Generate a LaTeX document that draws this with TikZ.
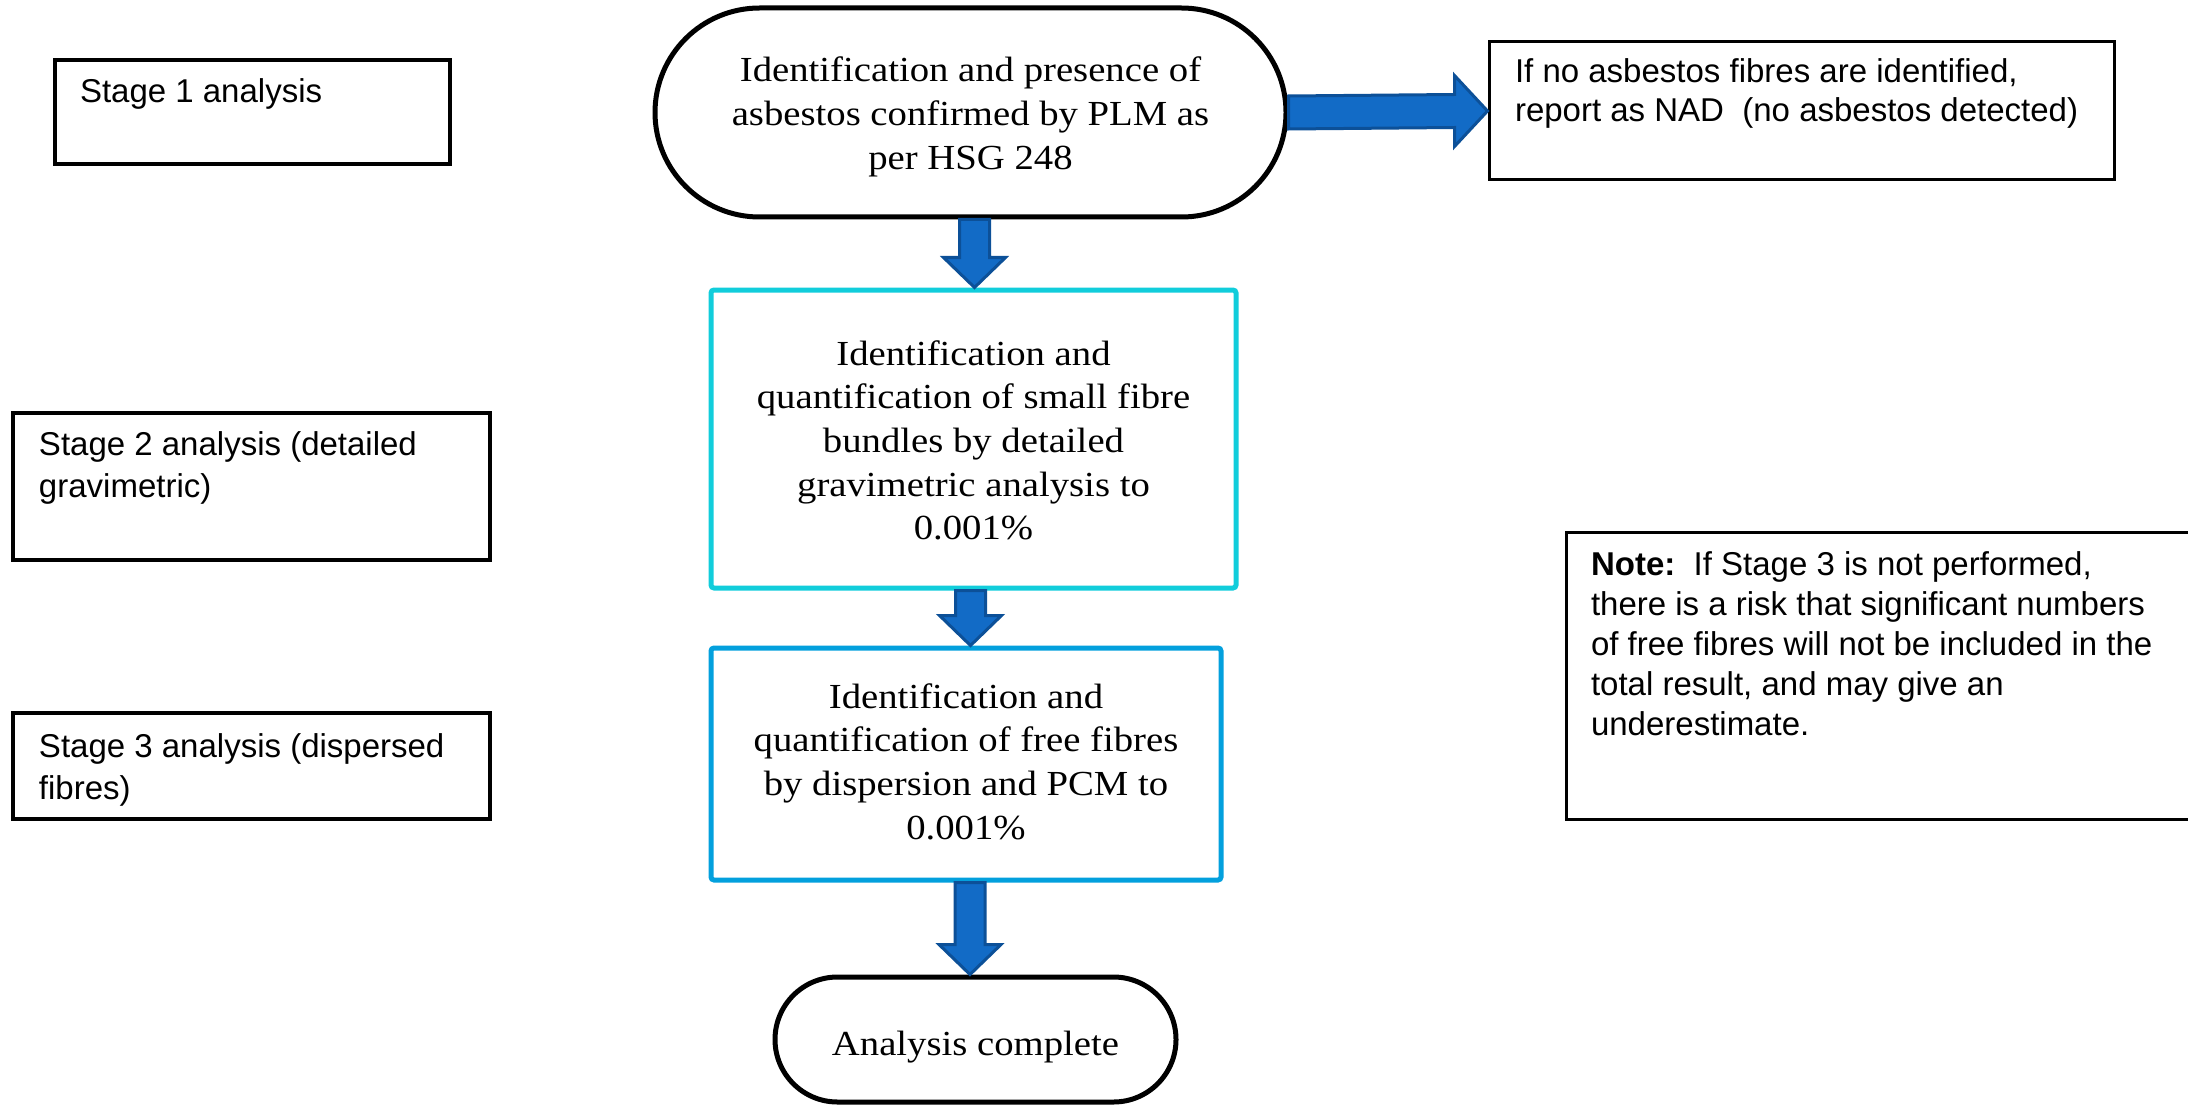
\documentclass[tikz,border=0pt]{standalone}
\usepackage{fontspec}
\setmainfont{Liberation Sans}
\newfontfamily\cambria{Liberation Serif}[FakeStretch=1.1]
\usetikzlibrary{calc}
\definecolor{cyanb}{RGB}{17,205,219}
\definecolor{blueb}{RGB}{3,160,221}
\definecolor{arrowfill}{RGB}{18,107,198}
\definecolor{arrowedge}{RGB}{12,80,152}
% #1 width, #2 height, #3 alignment, #4 first baseline offset, #5 text
\newcommand{\intext}[5]{\parbox[c][#2][t]{#1}{#3\rule{0pt}{#4}\ignorespaces#5}}
\newcommand{\lefttext}{\raggedright\leftskip=13pt\relax}
\tikzset{
  stagebox/.style={draw=black, line width=1.6pt, rectangle, inner sep=0pt,
    font=\fontsize{16.5pt}{21pt}\selectfont},
  sidebox/.style={draw=black, line width=1.5pt, rectangle, inner sep=0pt,
    font=\fontsize{16.5pt}{20pt}\selectfont},
  terminal/.style={draw=black, line width=2.5pt, rectangle, inner sep=0pt,
    font=\cambria\fontsize{17.6pt}{21.85pt}\selectfont},
  procbox/.style={line width=2.5pt, rectangle, rounded corners=1.5pt, inner sep=0pt,
    font=\cambria\fontsize{17.6pt}{21.85pt}\selectfont},
  blockarrow/.style={fill=arrowfill, draw=arrowedge, line width=1.5pt, line join=miter}
}
\newcommand{\harrow}[2]{%
  \draw[blockarrow] ($(#1)+(0,-16.5)$) -- ($(#2)+(-33,-16.5)$) -- ($(#2)+(-33,-35.5)$)
    -- (#2) -- ($(#2)+(-33,35.5)$) -- ($(#2)+(-33,16.5)$) -- ($(#1)+(0,16.5)$) -- cycle;}
\newcommand{\varrow}[2]{%
  \draw[blockarrow] ($(#1)+(-15,0)$) -- ($(#2)+(-15,-30)$) -- ($(#2)+(-31,-30)$)
    -- (#2) -- ($(#2)+(31,-30)$) -- ($(#2)+(15,-30)$) -- ($(#1)+(15,0)$) -- cycle;}
\begin{document}
\begin{tikzpicture}[x=0.5pt, y=-0.5pt]
\useasboundingbox (0,0) rectangle (2188,1107);
\clip (0,0) rectangle (2188,1107);

% left stage labels
\node[stagebox, minimum width=197.5pt, minimum height=52pt] (stage1) at (252.5,112)
  {\intext{197.5pt}{52pt}{\raggedright\leftskip=12.5pt\relax}{21.5pt}{Stage 1 analysis}};
\node[stagebox, minimum width=238.5pt, minimum height=73.5pt] (stage2) at (251.5,486.5)
  {\intext{238.5pt}{73.5pt}{\lefttext}{21pt}{Stage 2 analysis (detailed\\ gravimetric)}};
\node[stagebox, minimum width=238.5pt, minimum height=53pt] (stage3) at (251.5,766)
  {\intext{238.5pt}{53pt}{\lefttext}{22pt}{Stage 3 analysis (dispersed\\ fibres)}};

% main flow
\node[terminal, rounded corners=52.25pt, minimum width=315.5pt, minimum height=104.5pt] (top) at (970.5,112.5)
  {\intext{300pt}{104.5pt}{\centering}{37pt}{Identification and presence of\\ asbestos confirmed by PLM as\\ per HSG 248}};
\node[procbox, draw=cyanb, minimum width=262.5pt, minimum height=149pt] (s2) at (973.5,439)
  {\intext{250pt}{149pt}{\centering}{37.5pt}{Identification and\\ quantification of small fibre\\ bundles by detailed\\ gravimetric analysis to\\ 0.001\%}};
\node[procbox, draw=blueb, minimum width=255pt, minimum height=116pt] (s3) at (966,764)
  {\intext{245pt}{116pt}{\centering}{30pt}{Identification and\\ quantification of free fibres\\ by dispersion and PCM to\\ 0.001\%}};
\node[terminal, rounded corners=31.25pt, minimum width=200.5pt, minimum height=62.5pt] (end) at (975.5,1039.5)
  {\intext{180pt}{62.5pt}{\centering}{39pt}{Analysis complete}};

% right side notes
\node[sidebox, minimum width=312.5pt, minimum height=69pt] (nad) at (1801.5,111)
  {\intext{312.5pt}{69pt}{\lefttext\baselineskip=19.5pt}{20.5pt}{If no asbestos fibres are identified,\\ report as NAD\ \ (no asbestos detected)}};
\node[sidebox, minimum width=317pt, minimum height=143.5pt] (note) at (1883,675.5)
  {\intext{317pt}{143.5pt}{\raggedright\leftskip=12.5pt\relax}{21.5pt}{\textbf{Note:}\ \ If Stage 3 is not performed,\\ there is a risk that significant numbers\\ of free fibres will not be included in the\\ total result, and may give an\\ underestimate.}};

% connectors
\coordinate (x1) at (974.5,0);
\coordinate (x2) at (970.5,0);
\coordinate (x3) at (970,0);
\harrow{top.east}{nad.west}
\varrow{top.south -| x1}{s2.north -| x1}
\varrow{s2.south -| x2}{s3.north -| x2}
\varrow{s3.south -| x3}{end.north -| x3}
\end{tikzpicture}
\end{document}
